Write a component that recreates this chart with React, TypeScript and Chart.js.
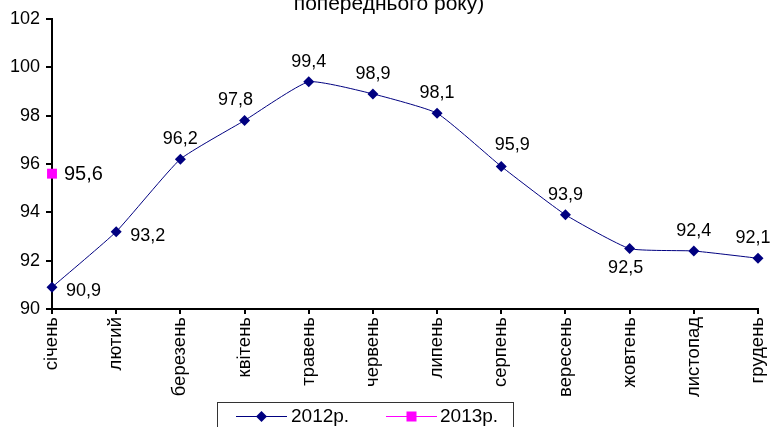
import React, { useEffect, useRef } from 'react';
import { Chart, registerables } from 'chart.js';

Chart.register(...registerables);

const categories = ['січень', 'лютий', 'березень', 'квітень', 'травень', 'червень', 'липень', 'серпень', 'вересень', 'жовтень', 'листопад', 'грудень'];
const values2012 = [90.9, 93.2, 96.2, 97.8, 99.4, 98.9, 98.1, 95.9, 93.9, 92.5, 92.4, 92.1];
const values2013 = [95.6, null, null, null, null, null, null, null, null, null, null, null];
const yMin = 90;
const yMax = 102;
const yStep = 2;
const seriesNames = ['2012р.', '2013р.'];
const titleText = 'попереднього року)';
const placement2012 = ['right', 'right', 'above', 'aboveLeft', 'above', 'above', 'above', 'aboveRight', 'above', 'below', 'above', 'aboveEnd'];
const placement2013 = ['rightMid', '', '', '', '', '', '', '', '', '', '', ''];

const FONT = "'Liberation Sans', Arial, sans-serif";
const NAVY = '#000080';
const MAGENTA = '#FF00FF';
const fmt = (v: number) => v.toFixed(1).replace('.', ',');

const dataLabelPlugin = {
  id: 'dataLabels',
  afterDatasetsDraw(chart: any) {
    const ctx = chart.ctx;
    chart.data.datasets.forEach((ds: any, di: number) => {
      const meta = chart.getDatasetMeta(di);
      const placement = di === 0 ? placement2012 : placement2013;
      const size = di === 0 ? 18 : 20;
      meta.data.forEach((el: any, i: number) => {
        const v = ds.data[i];
        if (v == null) return;
        const x = el.x;
        const y = el.y;
        ctx.save();
        ctx.font = `${size}px ${FONT}`;
        ctx.fillStyle = '#000';
        ctx.textBaseline = 'middle';
        ctx.textAlign = 'center';
        let tx = x;
        let ty = y;
        switch (placement[i]) {
          case 'above': ty = y - 20; break;
          case 'aboveLeft': tx = x - 9; ty = y - 20; break;
          case 'aboveEnd': tx = x - 5; ty = y - 20; break;
          case 'aboveRight': tx = x + 11; ty = y - 21; break;
          case 'below': ty = y + 19; tx = x - 4; break;
          case 'right': ctx.textAlign = 'left'; tx = x + 14; ty = y + 4; break;
          case 'rightMid': ctx.textAlign = 'left'; tx = x + 12; ty = y + 1; break;
        }
        ctx.fillText(fmt(v), tx, ty);
        ctx.restore();
      });
    });
  },
};

const decorPlugin = {
  id: 'decor',
  afterDraw(chart: any) {
    const ctx = chart.ctx;
    ctx.save();
    // title (second line visible)
    ctx.font = `21px ${FONT}`;
    ctx.fillStyle = '#000';
    ctx.textAlign = 'center';
    ctx.textBaseline = 'alphabetic';
    ctx.fillText(titleText, 389, 10);

    // legend box
    ctx.strokeStyle = '#333';
    ctx.lineWidth = 1;
    ctx.strokeRect(217.5, 402.5, 296, 40);

    const ly = 416;
    // series 1
    ctx.strokeStyle = NAVY;
    ctx.lineWidth = 1;
    ctx.beginPath();
    ctx.moveTo(236, ly + 0.5);
    ctx.lineTo(287, ly + 0.5);
    ctx.stroke();
    ctx.fillStyle = NAVY;
    const cx = 261.5;
    const r = 5.5;
    ctx.beginPath();
    ctx.moveTo(cx - r, ly + 0.5);
    ctx.lineTo(cx, ly + 0.5 - r);
    ctx.lineTo(cx + r, ly + 0.5);
    ctx.lineTo(cx, ly + 0.5 + r);
    ctx.closePath();
    ctx.fill();
    // series 2
    ctx.strokeStyle = MAGENTA;
    ctx.beginPath();
    ctx.moveTo(386, ly + 0.5);
    ctx.lineTo(437, ly + 0.5);
    ctx.stroke();
    ctx.fillStyle = MAGENTA;
    ctx.fillRect(406.5, ly - 4.5, 10, 10);

    ctx.fillStyle = '#000';
    ctx.font = `19px ${FONT}`;
    ctx.textAlign = 'left';
    ctx.textBaseline = 'middle';
    ctx.fillText(seriesNames[0], 291, ly + 1);
    ctx.fillText(seriesNames[1], 440, ly + 1);
    ctx.restore();
  },
};

export default function App() {
  const canvasRef = useRef<HTMLCanvasElement | null>(null);

  useEffect(() => {
    const canvas = canvasRef.current;
    if (!canvas) return;
    const chart = new Chart(canvas, {
      type: 'line',
      data: {
        labels: categories,
        datasets: [
          {
            label: seriesNames[0],
            data: values2012,
            borderColor: NAVY,
            backgroundColor: NAVY,
            borderWidth: 1,
            pointStyle: 'rectRot',
            pointRadius: 5.5,
            pointBorderWidth: 0,
            pointBackgroundColor: NAVY,
            tension: 0.15,
            clip: false,
          },
          {
            label: seriesNames[1],
            data: values2013,
            borderColor: MAGENTA,
            backgroundColor: MAGENTA,
            borderWidth: 1,
            pointStyle: 'rect',
            pointRadius: 7,
            pointBorderWidth: 0,
            pointBackgroundColor: MAGENTA,
            clip: false,
          },
        ],
      },
      options: {
        responsive: false,
        animation: false,
        devicePixelRatio: 1,
        layout: { padding: { top: 19, right: 12, left: 0, bottom: 0 } },
        plugins: {
          legend: { display: false },
          title: { display: false },
          tooltip: { enabled: false },
        },
        scales: {
          x: {
            type: 'category',
            offset: false,
            grid: { display: true, drawOnChartArea: false, drawTicks: true, tickLength: 5, color: '#000', lineWidth: 2 },
            border: { display: true, color: '#000', width: 2 },
            ticks: {
              color: '#000',
              font: { family: FONT, size: 18.5 },
              minRotation: 90,
              maxRotation: 90,
              padding: 3,
              autoSkip: false,
            },
            afterFit: (scale: any) => {
              scale.height = 118;
              scale.paddingLeft = 0;
              scale.paddingRight = 0;
            },
          },
          y: {
            min: yMin,
            max: yMax,
            grid: { display: true, drawOnChartArea: false, drawTicks: true, tickLength: 6, color: '#000', lineWidth: 2 },
            border: { display: true, color: '#000', width: 2 },
            ticks: {
              stepSize: yStep,
              color: '#000',
              font: { family: FONT, size: 18 },
              padding: 6,
            },
            afterFit: (scale: any) => {
              scale.width = 52;
              scale.paddingTop = 0;
              scale.paddingBottom = 0;
            },
          },
        },
      },
      plugins: [dataLabelPlugin, decorPlugin],
    });
    return () => chart.destroy();
  }, []);

  return (
    <div style={{ position: 'fixed', left: 0, top: 0, width: 770, height: 427, background: '#fff' }}>
      <canvas ref={canvasRef} width={770} height={427} style={{ width: 770, height: 427, display: 'block' }} />
    </div>
  );
}
